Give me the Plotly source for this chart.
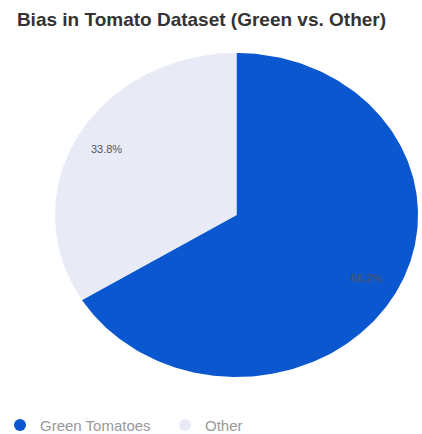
import math
import plotly.graph_objects as go

labels = ["Green Tomatoes", "Other"]
values = [66.2, 33.8]
colors = ["#0b57d0", "#e8eaf6"]

W, H = 422, 434
label_k = 0.82  # radial position of the percentage labels

fig = go.Figure()
total = sum(values)
start = 0.0
for name, v, c in zip(labels, values, colors):
    a0 = start / total * 2 * math.pi
    a1 = (start + v) / total * 2 * math.pi
    start += v
    n = max(int((a1 - a0) / (2 * math.pi) * 360), 2)
    angs = [a0 + (a1 - a0) * i / n for i in range(n + 1)]
    xs = [0.0] + [math.sin(a) for a in angs] + [0.0]
    ys = [0.0] + [math.cos(a) for a in angs] + [0.0]
    fig.add_trace(go.Scatter(
        x=xs, y=ys, mode="lines", fill="toself", fillcolor=c,
        line=dict(width=0, color=c), name=name, showlegend=False,
        hoveron="fills", hoverinfo="name",
    ))
    mid = (a0 + a1) / 2
    fig.add_trace(go.Scatter(
        x=[label_k * math.sin(mid)], y=[label_k * math.cos(mid)],
        mode="text", text=[f"{v / total * 100:.1f}%"], showlegend=False,
        textfont=dict(family="Arial", size=11, color="#555555"), hoverinfo="skip",
    ))

# legend entries with round markers
for name, c in zip(labels, colors):
    fig.add_trace(go.Scatter(x=[None], y=[None], mode="markers", name=name,
                             marker=dict(symbol="circle", size=12, color=c)))

fig.update_layout(
    width=W, height=H,
    margin=dict(l=0, r=0, t=0, b=0, autoexpand=False),
    paper_bgcolor="white", plot_bgcolor="white",
    title=dict(text="<b>Bias in Tomato Dataset (Green vs. Other)</b>",
               x=0.04, xanchor="left", y=0.955, yanchor="middle",
               font=dict(family="Arial", size=19, color="#333333")),
    legend=dict(orientation="h", x=0.0, y=0.02, xanchor="left", yanchor="middle",
                entrywidth=120, entrywidthmode="pixels",
                font=dict(family="Arial", size=15, color="#999999")),
    xaxis=dict(visible=False, range=[-1.303, 1.022], fixedrange=True),
    yaxis=dict(visible=False, range=[-1.352, 1.327], fixedrange=True),
)
fig.write_html("out.html")
